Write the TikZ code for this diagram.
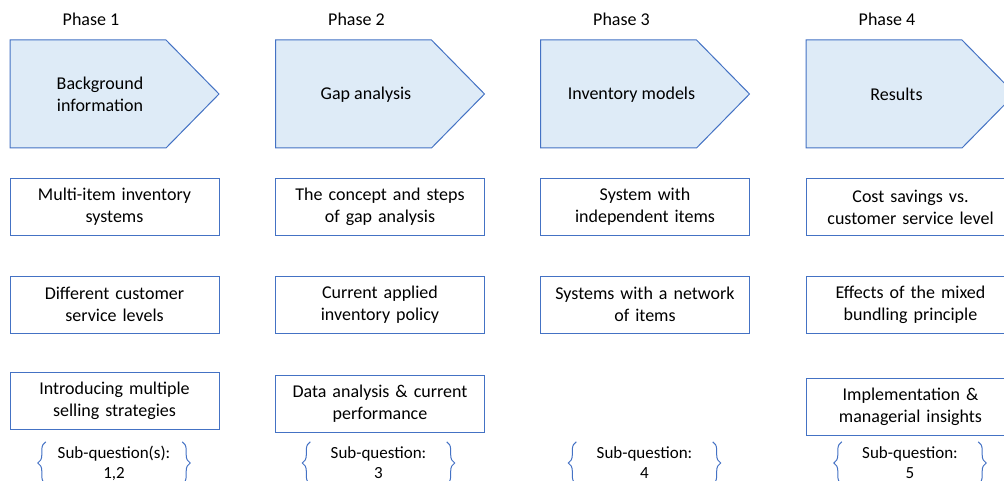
\documentclass[tikz,border=0pt]{standalone}
\usepackage{fontspec}
\setmainfont{Carlito}
\usetikzlibrary{positioning,decorations.pathreplacing}

\definecolor{phasefill}{HTML}{DEEBF7}
\definecolor{phaseline}{HTML}{4472C4}

\tikzset{
  phaseshape/.style = {draw=phaseline, fill=phasefill, line width=1pt},
  topicbox/.style = {draw=phaseline, line width=1pt, fill=white, minimum width=209pt,
    minimum height=57pt, text width=200pt, align=center, inner sep=0pt},
  subq/.style = {minimum width=136pt, minimum height=42pt, align=center, inner sep=0pt,
    font=\fontsize{17}{20}\selectfont},
  curly/.style = {draw=phaseline, line width=1pt, decorate,
    decoration={brace, amplitude=8pt}}
}

\begin{document}
\begin{tikzpicture}[x=1pt, y=-1pt, font=\fontsize{18}{22}\selectfont]
    \useasboundingbox (0,0) rectangle (1004,481);
    % the four phase arrows
    \foreach \n/\x in {1/10, 2/275.5, 3/540.5, 4/806} {
      \draw[phaseshape] (\x,40) -- (\x+156,40) -- (\x+209,94) -- (\x+156,148) -- (\x,148) -- cycle;
      \node (phase\n) at (\x+81,19) {Phase \n};
    }
    \node[align=center] (background) at (100,94) {Background\\information};
    \node (gap) at (366,95) {Gap analysis};
    \node (models) at (631.5,95) {Inventory models};
    \node (results) at (896.5,94) {Results};

    % topics per phase
    \node[topicbox] (multiitem) at (114.5,207) {Multi-item inventory\\systems};
    \node[topicbox] (service) at (114.5,304.5) {Different customer\\service levels};
    \node[topicbox] (selling) at (114.5,401) {Introducing multiple\\selling strategies};

    \node[topicbox] (concept) at (380,207) {The concept and steps\\of gap analysis};
    \node[topicbox] (policy) at (380,304.5) {Current applied\\inventory policy};
    \node[topicbox] (data) at (380,403.5) {Data analysis \& current\\performance};

    \node[topicbox] (independent) at (645,207) {System with\\independent items};
    \node[topicbox] (network) at (645,304.5) {Systems with a network\\of items};

    \node[topicbox] (savings) at (910.5,207) {Cost savings vs.\\customer service level};
    \node[topicbox] (bundling) at (910.5,304.5) {Effects of the mixed\\bundling principle};
    \node[topicbox] (insights) at (910.5,406.5) {Implementation \&\\managerial insights};

    % sub-questions
    \foreach \n/\x/\q in {1/114/{Sub-question(s):\\1,2}, 2/378.5/{Sub-question:\\3},
                          3/644.5/{Sub-question:\\4}, 4/910/{Sub-question:\\5}} {
      \node[subq] (sq\n) at (\x,463) {\q};
      \draw[curly] (sq\n.south west) -- (sq\n.north west);
      \draw[curly] (sq\n.north east) -- (sq\n.south east);
    }
  \end{tikzpicture}
\end{document}
